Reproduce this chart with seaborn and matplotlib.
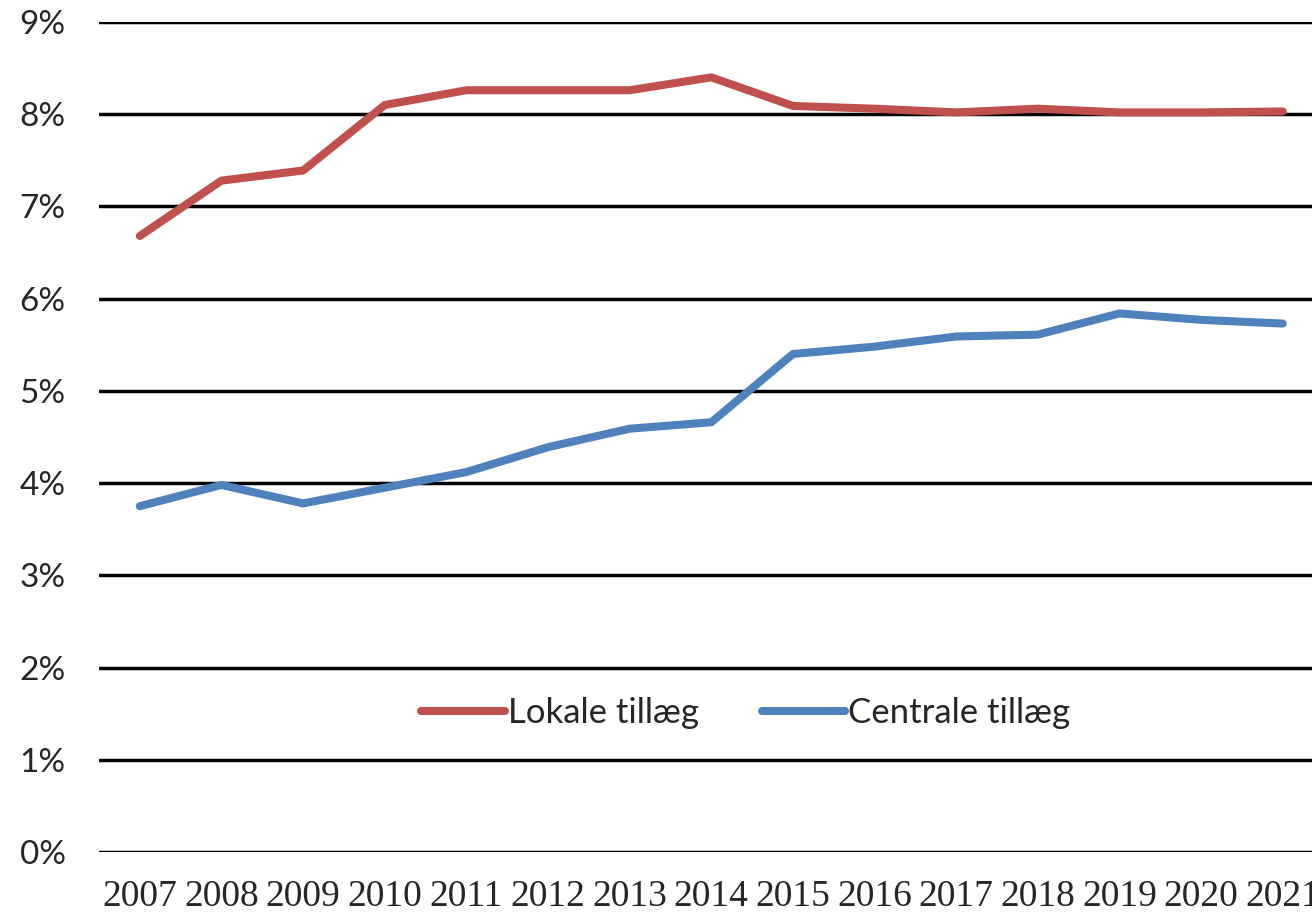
import matplotlib
matplotlib.use("Agg")
import matplotlib.pyplot as plt
import seaborn as sns
import pandas as pd

years = [str(y) for y in range(2007, 2022)]
lokale = [6.68, 7.28, 7.39, 8.10, 8.26, 8.26, 8.26, 8.40, 8.09, 8.06, 8.02, 8.06, 8.02, 8.02, 8.03]
centrale = [3.75, 3.98, 3.78, 3.95, 4.12, 4.39, 4.59, 4.66, 5.40, 5.48, 5.59, 5.61, 5.84, 5.77, 5.73]
series_names = ["Lokale tillæg", "Centrale tillæg"]
y_ticks = list(range(0, 10))
y_tick_labels = [f"{v}%" for v in y_ticks]

df = pd.DataFrame({
    "year": years * 2,
    "value": lokale + centrale,
    "series": [series_names[0]] * len(years) + [series_names[1]] * len(years),
})

sns.set_theme(style="white")
plt.rcParams["font.family"] = ["Lato", "DejaVu Sans"]

fig = plt.figure(figsize=(13.12, 9.14), dpi=100)
ax = fig.add_axes([99 / 1312, 1 - 852 / 914, 1224.6 / 1312, (852 - 22) / 914])

sns.lineplot(
    data=df, x="year", y="value", hue="series",
    palette=["#C0504D", "#4F81BD"], linewidth=5.8, ax=ax,
    solid_capstyle="round", solid_joinstyle="round", sort=False,
)

ax.set_xlim(-0.5, len(years) - 0.5)
ax.set_ylim(0, 9)
ax.set_yticks(y_ticks)
ax.set_yticklabels(y_tick_labels, fontsize=24, color="#262626")
ax.yaxis.grid(True, color="black", linewidth=2.5)
ax.set_axisbelow(True)
for spine in ax.spines.values():
    spine.set_visible(False)
ax.tick_params(axis="y", length=0, pad=24)
ax.tick_params(axis="x", length=0, pad=20)
ax.set_xticks(range(len(years)))
ax.set_xticklabels(years, fontsize=27, family=["Liberation Serif"], color="#262626")
ax.set_xlabel("")
ax.set_ylabel("")

handles, labels = ax.get_legend_handles_labels()
ax.legend(handles, labels, loc="center", bbox_to_anchor=(746 / 1312, 1 - 713 / 914),
          bbox_transform=fig.transFigure, ncol=2, frameon=False, fontsize=25,
          handlelength=2.4, handletextpad=0.1, columnspacing=1.8)

fig.savefig("out.png", dpi=100, facecolor="white")
